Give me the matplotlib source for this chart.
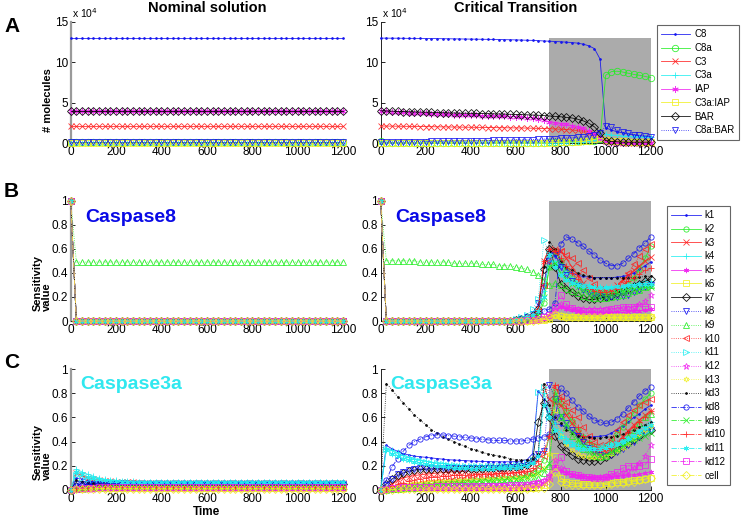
import matplotlib
matplotlib.use("Agg")
import matplotlib.pyplot as plt

plt.rcParams['font.family'] = ['Liberation Sans', 'DejaVu Sans']

# ---------------------------------------------------------------- data
time = list(range(0, 1201, 25))  # 49 samples, 0..1200
transition_start = 750
transition_end = 1200
transition_top_molecules = 13.0  # x 1e4

species = ['C8', 'C8a', 'C3', 'C3a', 'IAP', 'C3a:IAP', 'BAR', 'C8a:BAR']
params = ['k1', 'k2', 'k3', 'k4', 'k5', 'k6', 'k7', 'k8', 'k9', 'k10', 'k11',
          'k12', 'k13', 'kd3', 'kd8', 'kd9', 'kd10', 'kd11', 'kd12', 'cell']

# Panel A, nominal solution (# molecules, x 1e4)
nom_C8 = [13.0] * 49
nom_C8a = [0.1] * 49
nom_C3 = [2.1] * 49
nom_C3a = [0.0] * 49
nom_IAP = [4.0] * 49
nom_C3aIAP = [0.0] * 49
nom_BAR = [4.0] * 49
nom_C8aBAR = [0.1] * 49

# Panel A, critical transition (# molecules, x 1e4)
crit_C8 = [13.0, 13.0, 12.99, 12.99, 12.98, 12.97, 12.97, 12.96, 12.95, 12.95,
           12.94, 12.93, 12.92, 12.91, 12.9, 12.89, 12.88, 12.87, 12.86, 12.85,
           12.84, 12.83, 12.81, 12.8, 12.78, 12.76, 12.74, 12.72, 12.69, 12.65,
           12.62, 12.58, 12.55, 12.5, 12.45, 12.38, 12.25, 12.05, 11.7, 10.4,
           1.9, 1.6, 1.4, 1.25, 1.1, 1.0, 0.9, 0.82, 0.75]
crit_C8a = ([0.2] + [0.05] * 29 +
            [0.08, 0.1, 0.12, 0.15, 0.18, 0.2, 0.22, 0.25, 0.3, 0.5] +
            [8.4, 8.85, 8.9, 8.8, 8.65, 8.5, 8.4, 8.25, 8.1])
crit_C3 = ([2.1, 2.1, 2.09, 2.08, 2.07, 2.06, 2.05, 2.04, 2.03, 2.02, 2.01, 2.0,
            1.99, 1.98, 1.97, 1.96, 1.95, 1.94, 1.93, 1.92, 1.91, 1.9, 1.89, 1.88,
            1.87, 1.86, 1.85, 1.83, 1.81, 1.79] +
           [1.77, 1.74, 1.71, 1.67, 1.62, 1.55, 1.45, 1.3, 1.1, 0.8] +
           [0.2, 0.1, 0.08, 0.06, 0.05, 0.04, 0.04, 0.03, 0.03])
crit_C3a = ([0.0] * 30 +
            [0.03, 0.04, 0.05, 0.06, 0.08, 0.1, 0.15, 0.22, 0.35, 0.6] +
            [1.1, 1.0, 0.95, 0.9, 0.85, 0.8, 0.77, 0.74, 0.7])
crit_IAP = [4.0, 3.95, 3.9, 3.86, 3.82, 3.78, 3.74, 3.7, 3.67, 3.64,
            3.61, 3.58, 3.55, 3.52, 3.5, 3.47, 3.45, 3.42, 3.4, 3.37,
            3.35, 3.32, 3.3, 3.27, 3.24, 3.2, 3.16, 3.1, 3.0, 2.85,
            2.6, 2.5, 2.4, 2.3, 2.15, 2.0, 1.8, 1.5, 1.1, 0.6,
            0.1, 0.05, 0.03, 0.02, 0.02, 0.01, 0.01, 0.01, 0.01]
crit_C3aIAP = ([0.0] * 30 +
               [0.05, 0.06, 0.08, 0.1, 0.12, 0.15, 0.2, 0.3, 0.45, 0.6] +
               [0.4, 0.3, 0.25, 0.2, 0.18, 0.15, 0.13, 0.12, 0.1])
crit_BAR = [4.0, 3.97, 3.95, 3.92, 3.9, 3.88, 3.86, 3.84, 3.82, 3.8,
            3.78, 3.76, 3.74, 3.72, 3.7, 3.69, 3.68, 3.66, 3.65, 3.64,
            3.62, 3.6, 3.58, 3.56, 3.54, 3.52, 3.5, 3.47, 3.44, 3.4,
            3.35, 3.3, 3.25, 3.18, 3.1, 2.95, 2.75, 2.45, 2.0, 1.3,
            0.3, 0.2, 0.15, 0.12, 0.1, 0.1, 0.1, 0.1, 0.1]
crit_C8aBAR = ([0.1, 0.11, 0.12, 0.13, 0.14, 0.15, 0.16, 0.17, 0.18, 0.19,
                0.2, 0.21, 0.22, 0.23, 0.24, 0.25, 0.26, 0.28, 0.29, 0.3,
                0.31, 0.32, 0.34, 0.35, 0.37, 0.38, 0.4, 0.42, 0.45, 0.48] +
               [0.52, 0.55, 0.58, 0.62, 0.66, 0.7, 0.76, 0.85, 1.0, 1.3] +
               [2.05, 2.0, 1.6, 1.35, 1.2, 1.05, 0.95, 0.85, 0.75])

# Panel B, Caspase8 sensitivity, nominal solution
c8_nom_k9 = [1.0] + [0.49] * 48
c8_nom_other = [1.0] + [0.0] * 48

# Panel B, Caspase8 sensitivity, critical transition
c8_crit_k1 = [1.0] + [0.0] * 23 + [0.01, 0.02, 0.03, 0.05, 0.08, 0.3, 0.58, 0.55, 0.47, 0.43, 0.4, 0.38, 0.37, 0.365, 0.36, 0.36, 0.36, 0.36, 0.365, 0.37, 0.38, 0.4, 0.43, 0.46, 0.49]
c8_crit_k2 = [1.0] + [0.0] * 23 + [0.01, 0.01, 0.02, 0.03, 0.05, 0.15, 0.45, 0.58, 0.5, 0.42, 0.36, 0.31, 0.27, 0.24, 0.22, 0.21, 0.21, 0.22, 0.24, 0.27, 0.31, 0.36, 0.43, 0.52, 0.62]
c8_crit_k3 = [1.0] + [0.0] * 23 + [0.01, 0.02, 0.03, 0.05, 0.1, 0.5, 0.6, 0.6, 0.58, 0.52, 0.45, 0.38, 0.32, 0.28, 0.26, 0.25, 0.25, 0.27, 0.3, 0.34, 0.38, 0.42, 0.46, 0.5, 0.53]
c8_crit_k4 = [1.0] + [0.0] * 23 + [0.01, 0.01, 0.02, 0.05, 0.1, 0.25, 0.5, 0.5, 0.45, 0.4, 0.36, 0.33, 0.31, 0.3, 0.29, 0.28, 0.28, 0.28, 0.29, 0.29, 0.3, 0.31, 0.32, 0.33, 0.33]
c8_crit_k5 = [1.0] + [0.0] * 23 + [0.01, 0.01, 0.01, 0.01, 0.02, 0.03, 0.05, 0.08, 0.12, 0.1, 0.09, 0.08, 0.07, 0.07, 0.07, 0.065, 0.065, 0.065, 0.07, 0.07, 0.075, 0.08, 0.085, 0.09, 0.1]
c8_crit_k6 = [1.0] + [0.0] * 23 + [0.0, 0.0, 0.0, 0.01, 0.01, 0.01, 0.02, 0.05, 0.04, 0.03, 0.03, 0.03, 0.03, 0.03, 0.03, 0.03, 0.03, 0.03, 0.03, 0.03, 0.03, 0.03, 0.03, 0.03, 0.03]
c8_crit_k7 = [1.0] + [0.0] * 23 + [0.01, 0.02, 0.03, 0.05, 0.1, 0.43, 0.6, 0.45, 0.31, 0.27, 0.24, 0.21, 0.19, 0.18, 0.18, 0.19, 0.2, 0.21, 0.23, 0.25, 0.27, 0.29, 0.31, 0.33, 0.35]
c8_crit_k8 = [1.0] + [0.0] * 23 + [0.01, 0.02, 0.03, 0.06, 0.15, 0.29, 0.5, 0.55, 0.45, 0.38, 0.33, 0.29, 0.26, 0.24, 0.22, 0.21, 0.2, 0.2, 0.2, 0.21, 0.22, 0.24, 0.26, 0.28, 0.3]
c8_crit_k9 = ([1.0] + [0.5, 0.5, 0.5, 0.5, 0.5, 0.5, 0.49, 0.49, 0.49, 0.49, 0.49, 0.49, 0.48, 0.48, 0.48, 0.48, 0.48, 0.47, 0.47, 0.47, 0.46, 0.46, 0.46]
              + [0.45, 0.44, 0.43, 0.41, 0.38, 0.34, 0.3, 0.32, 0.3, 0.27, 0.25, 0.23, 0.21, 0.2, 0.19, 0.19, 0.19, 0.2, 0.21, 0.22, 0.23, 0.25, 0.26, 0.28, 0.3])
c8_crit_k10 = [1.0] + [0.0] * 23 + [0.01, 0.02, 0.03, 0.05, 0.08, 0.3, 0.5, 0.58, 0.58, 0.55, 0.52, 0.48, 0.42, 0.36, 0.31, 0.27, 0.25, 0.25, 0.28, 0.33, 0.4, 0.47, 0.54, 0.6, 0.64]
c8_crit_k11 = [1.0] + [0.0] * 23 + [0.02, 0.03, 0.05, 0.1, 0.18, 0.67, 0.56, 0.47, 0.4, 0.35, 0.32, 0.3, 0.29, 0.28, 0.27, 0.26, 0.26, 0.26, 0.27, 0.27, 0.28, 0.28, 0.29, 0.29, 0.3]
c8_crit_k12 = [1.0] + [0.0] * 23 + [0.0, 0.0, 0.01, 0.01, 0.01, 0.02, 0.04, 0.1, 0.14, 0.12, 0.11, 0.1, 0.1, 0.1, 0.1, 0.1, 0.1, 0.1, 0.1, 0.105, 0.11, 0.12, 0.14, 0.17, 0.22]
c8_crit_k13 = [1.0] + [0.0] * 23 + [0.0, 0.0, 0.0, 0.0, 0.01, 0.01, 0.02, 0.04, 0.03, 0.03, 0.03, 0.03, 0.03, 0.03, 0.03, 0.03, 0.03, 0.03, 0.03, 0.03, 0.03, 0.03, 0.03, 0.03, 0.03]
c8_crit_kd3 = [1.0] + [0.0] * 23 + [0.01, 0.02, 0.03, 0.05, 0.1, 0.45, 0.66, 0.6, 0.5, 0.45, 0.42, 0.4, 0.38, 0.37, 0.36, 0.36, 0.36, 0.36, 0.36, 0.36, 0.36, 0.36, 0.365, 0.37, 0.37]
c8_crit_kd8 = [1.0] + [0.0] * 23 + [0.01, 0.01, 0.02, 0.03, 0.05, 0.08, 0.1, 0.15, 0.64, 0.7, 0.68, 0.65, 0.62, 0.58, 0.55, 0.51, 0.48, 0.46, 0.46, 0.48, 0.52, 0.56, 0.61, 0.65, 0.7]
c8_crit_kd9 = [1.0] + [0.0] * 23 + [0.01, 0.01, 0.02, 0.03, 0.05, 0.2, 0.45, 0.48, 0.4, 0.35, 0.31, 0.28, 0.26, 0.25, 0.24, 0.23, 0.23, 0.23, 0.24, 0.25, 0.26, 0.27, 0.27, 0.28, 0.28]
c8_crit_kd10 = [1.0] + [0.0] * 23 + [0.01, 0.02, 0.03, 0.05, 0.1, 0.5, 0.6, 0.58, 0.52, 0.46, 0.4, 0.35, 0.3, 0.27, 0.25, 0.24, 0.24, 0.25, 0.27, 0.3, 0.33, 0.36, 0.39, 0.42, 0.44]
c8_crit_kd11 = [1.0] + [0.0] * 23 + [0.01, 0.02, 0.03, 0.05, 0.08, 0.2, 0.55, 0.45, 0.38, 0.34, 0.32, 0.3, 0.29, 0.28, 0.28, 0.28, 0.28, 0.28, 0.29, 0.29, 0.3, 0.3, 0.31, 0.31, 0.31]
c8_crit_kd12 = [1.0] + [0.0] * 23 + [0.0, 0.0, 0.01, 0.01, 0.02, 0.03, 0.05, 0.12, 0.22, 0.14, 0.11, 0.09, 0.085, 0.08, 0.08, 0.08, 0.09, 0.1, 0.11, 0.12, 0.12, 0.12, 0.12, 0.12, 0.12]
c8_crit_cell = [1.0] + [0.0] * 23 + [0.0, 0.0, 0.0, 0.0, 0.01, 0.02, 0.03, 0.06, 0.04, 0.03, 0.03, 0.03, 0.03, 0.03, 0.03, 0.03, 0.03, 0.03, 0.03, 0.03, 0.03, 0.03, 0.03, 0.03, 0.03]

# Panel C, Caspase3a sensitivity, nominal solution
c3a_nom_k1 = [0, 0.1, 0.09, 0.08, 0.072, 0.066, 0.062, 0.06, 0.058, 0.057, 0.056, 0.055, 0.055] + [0.055] * 36
c3a_nom_k2 = [0, 0.01, 0.02, 0.025, 0.03, 0.032, 0.034, 0.035, 0.036, 0.037, 0.038, 0.038, 0.038] + [0.038] * 36
c3a_nom_k3 = [0, 0.14, 0.12, 0.1, 0.09, 0.082, 0.076, 0.072, 0.068, 0.066, 0.064, 0.062, 0.06] + [0.06] * 36
c3a_nom_k4 = [0, 0.17, 0.15, 0.13, 0.115, 0.1, 0.09, 0.085, 0.08, 0.077, 0.074, 0.072, 0.07] + [0.068] * 36
c3a_nom_k5 = [0, 0.005, 0.008, 0.01, 0.01, 0.01, 0.01, 0.01, 0.01, 0.01, 0.01, 0.01, 0.01] + [0.01] * 36
c3a_nom_k6 = [0, 0.01, 0.012, 0.013, 0.014, 0.015, 0.015, 0.015, 0.015, 0.015, 0.015, 0.015, 0.015] + [0.015] * 36
c3a_nom_k7 = [0, 0.03, 0.038, 0.042, 0.044, 0.045, 0.046, 0.046, 0.046, 0.046, 0.046, 0.046, 0.046] + [0.046] * 36
c3a_nom_k8 = [0, 0.05, 0.05, 0.05, 0.05, 0.05, 0.05, 0.05, 0.05, 0.05, 0.05, 0.05, 0.05] + [0.05] * 36
c3a_nom_k9 = [0, 0.008, 0.014, 0.018, 0.02, 0.022, 0.023, 0.024, 0.025, 0.025, 0.025, 0.025, 0.025] + [0.025] * 36
c3a_nom_k10 = [0, 0.01, 0.018, 0.024, 0.028, 0.03, 0.031, 0.032, 0.033, 0.033, 0.033, 0.033, 0.033] + [0.033] * 36
c3a_nom_k11 = [0, 0.12, 0.1, 0.09, 0.08, 0.074, 0.07, 0.067, 0.065, 0.063, 0.062, 0.061, 0.06] + [0.06] * 36
c3a_nom_k12 = [0, 0.005, 0.008, 0.01, 0.012, 0.013, 0.014, 0.015, 0.015, 0.015, 0.015, 0.015, 0.015] + [0.015] * 36
c3a_nom_k13 = [0, 0.01, 0.015, 0.018, 0.02, 0.021, 0.022, 0.022, 0.022, 0.022, 0.022, 0.022, 0.022] + [0.022] * 36
c3a_nom_kd3 = [0, 0.08, 0.07, 0.06, 0.055, 0.05, 0.048, 0.046, 0.045, 0.044, 0.043, 0.042, 0.042] + [0.042] * 36
c3a_nom_kd8 = [0, 0.03, 0.04, 0.045, 0.048, 0.05, 0.052, 0.053, 0.054, 0.055, 0.055, 0.055, 0.055] + [0.055] * 36
c3a_nom_kd9 = [0, 0.005, 0.01, 0.014, 0.017, 0.019, 0.02, 0.021, 0.022, 0.022, 0.022, 0.022, 0.022] + [0.022] * 36
c3a_nom_kd10 = [0, 0.008, 0.014, 0.018, 0.021, 0.023, 0.024, 0.025, 0.025, 0.025, 0.025, 0.025, 0.025] + [0.025] * 36
c3a_nom_kd11 = [0, 0.15, 0.13, 0.11, 0.1, 0.09, 0.082, 0.076, 0.072, 0.068, 0.066, 0.064, 0.062] + [0.062] * 36
c3a_nom_kd12 = [0, 0.01, 0.015, 0.018, 0.02, 0.021, 0.022, 0.022, 0.022, 0.022, 0.022, 0.022, 0.022] + [0.022] * 36
c3a_nom_cell = [0, 0.005, 0.007, 0.008, 0.009, 0.01, 0.01, 0.01, 0.01, 0.01, 0.01, 0.01, 0.01] + [0.01] * 36

# Panel C, Caspase3a sensitivity, critical transition
c3a_crit_k1 = ([0, 0.37, 0.34, 0.32, 0.3, 0.29, 0.28, 0.275, 0.27, 0.265, 0.26, 0.255, 0.25, 0.248, 0.245, 0.243, 0.24, 0.238, 0.236, 0.235, 0.234, 0.233, 0.233, 0.233]
               + [0.235, 0.24, 0.25, 0.3, 0.82, 0.75, 0.6, 0.55, 0.54, 0.52, 0.49, 0.46, 0.44, 0.44, 0.44, 0.445, 0.45, 0.47, 0.5, 0.53, 0.56, 0.6, 0.63, 0.67, 0.7])
c3a_crit_k2 = ([0, 0.005, 0.01, 0.02, 0.03, 0.035, 0.04, 0.045, 0.05, 0.055, 0.06, 0.065, 0.07, 0.072, 0.075, 0.078, 0.08, 0.083, 0.086, 0.09, 0.093, 0.096, 0.1, 0.103]
               + [0.107, 0.11, 0.12, 0.14, 0.18, 0.25, 0.45, 0.82, 0.72, 0.65, 0.57, 0.5, 0.44, 0.39, 0.36, 0.35, 0.36, 0.4, 0.46, 0.52, 0.58, 0.64, 0.7, 0.75, 0.8])
c3a_crit_k3 = ([0, 0.02, 0.05, 0.08, 0.1, 0.11, 0.12, 0.125, 0.13, 0.135, 0.14, 0.143, 0.146, 0.15, 0.152, 0.155, 0.158, 0.16, 0.163, 0.165, 0.168, 0.17, 0.172, 0.175]
               + [0.178, 0.18, 0.19, 0.22, 0.3, 0.85, 0.75, 0.72, 0.7, 0.62, 0.55, 0.47, 0.4, 0.35, 0.32, 0.31, 0.32, 0.35, 0.39, 0.44, 0.49, 0.54, 0.58, 0.62, 0.65])
c3a_crit_k4 = ([0, 0.35, 0.33, 0.31, 0.29, 0.27, 0.26, 0.25, 0.24, 0.23, 0.225, 0.22, 0.215, 0.21, 0.205, 0.2, 0.2, 0.2, 0.2, 0.2, 0.2, 0.2, 0.2, 0.2]
               + [0.2, 0.205, 0.21, 0.22, 0.3, 0.8, 0.65, 0.55, 0.48, 0.43, 0.4, 0.38, 0.37, 0.36, 0.36, 0.36, 0.37, 0.38, 0.4, 0.42, 0.44, 0.47, 0.5, 0.53, 0.56])
c3a_crit_k5 = ([0, 0.003, 0.005, 0.007, 0.008, 0.009] + [0.01] * 18
               + [0.012, 0.014, 0.017, 0.022, 0.03, 0.05, 0.08, 0.2, 0.16, 0.14, 0.125, 0.115, 0.11, 0.105, 0.1, 0.1, 0.1, 0.105, 0.11, 0.115, 0.12, 0.125, 0.13, 0.14, 0.15])
c3a_crit_k6 = ([0, 0.005, 0.008, 0.01, 0.012, 0.013, 0.014, 0.015] + [0.015] * 16
               + [0.016, 0.017, 0.018, 0.02, 0.025, 0.04, 0.1, 0.28, 0.1, 0.07, 0.06, 0.055, 0.05, 0.05, 0.05, 0.05, 0.055, 0.06, 0.065, 0.07, 0.075, 0.08, 0.085, 0.09, 0.1])
c3a_crit_k7 = ([0, 0.05, 0.09, 0.12, 0.14, 0.155, 0.165, 0.17, 0.172, 0.174, 0.175, 0.175, 0.175, 0.175, 0.175, 0.175, 0.175, 0.176, 0.177, 0.178, 0.18, 0.182, 0.184, 0.186]
               + [0.19, 0.2, 0.21, 0.25, 0.56, 0.72, 0.6, 0.45, 0.36, 0.32, 0.29, 0.26, 0.25, 0.24, 0.24, 0.25, 0.27, 0.3, 0.33, 0.36, 0.39, 0.42, 0.45, 0.48, 0.5])
c3a_crit_k8 = ([0, 0.04, 0.09, 0.13, 0.15, 0.165, 0.175, 0.18, 0.18, 0.18, 0.18, 0.18, 0.18, 0.18, 0.18, 0.18, 0.18, 0.18, 0.18, 0.18, 0.182, 0.184, 0.186, 0.188]
               + [0.19, 0.2, 0.21, 0.24, 0.3, 0.32, 0.87, 0.75, 0.6, 0.55, 0.5, 0.45, 0.4, 0.35, 0.31, 0.29, 0.28, 0.29, 0.31, 0.34, 0.37, 0.4, 0.44, 0.47, 0.5])
c3a_crit_k9 = ([0, 0.003, 0.006, 0.01, 0.013, 0.016, 0.02, 0.022, 0.025, 0.028, 0.03, 0.032, 0.035, 0.037, 0.04, 0.042, 0.045, 0.047, 0.05, 0.052, 0.055, 0.057, 0.06, 0.062]
               + [0.065, 0.07, 0.075, 0.085, 0.1, 0.14, 0.2, 0.78, 0.6, 0.52, 0.45, 0.39, 0.34, 0.3, 0.28, 0.27, 0.28, 0.31, 0.35, 0.4, 0.45, 0.5, 0.55, 0.6, 0.63])
c3a_crit_k10 = ([0, 0.005, 0.01, 0.02, 0.03, 0.04, 0.05, 0.06, 0.065, 0.07, 0.075, 0.08, 0.085, 0.09, 0.095, 0.1, 0.105, 0.11, 0.113, 0.116, 0.12, 0.123, 0.126, 0.13]
                + [0.133, 0.137, 0.14, 0.16, 0.2, 0.28, 0.45, 0.85, 0.78, 0.73, 0.66, 0.6, 0.52, 0.45, 0.4, 0.37, 0.38, 0.42, 0.5, 0.56, 0.62, 0.66, 0.7, 0.73, 0.75])
c3a_crit_k11 = ([0, 0.34, 0.31, 0.29, 0.27, 0.26, 0.25, 0.24, 0.23, 0.225, 0.22, 0.215, 0.21, 0.205, 0.2, 0.2, 0.2, 0.2, 0.2, 0.2, 0.2, 0.2, 0.2, 0.2]
                + [0.205, 0.21, 0.22, 0.25, 0.81, 0.85, 0.6, 0.5, 0.45, 0.41, 0.38, 0.36, 0.35, 0.35, 0.35, 0.35, 0.36, 0.37, 0.38, 0.4, 0.42, 0.44, 0.46, 0.48, 0.5])
c3a_crit_k12 = ([0, 0.005, 0.01, 0.013, 0.016, 0.018, 0.02, 0.022, 0.024, 0.026, 0.028, 0.03, 0.031, 0.032, 0.033, 0.034, 0.035, 0.036, 0.037, 0.038, 0.039, 0.04, 0.041, 0.042]
                + [0.043, 0.045, 0.048, 0.055, 0.065, 0.08, 0.12, 0.25, 0.18, 0.15, 0.13, 0.12, 0.115, 0.11, 0.11, 0.11, 0.115, 0.12, 0.13, 0.145, 0.16, 0.18, 0.22, 0.28, 0.37])
c3a_crit_k13 = ([0, 0.01, 0.02, 0.03, 0.04, 0.05, 0.055, 0.06, 0.065, 0.07, 0.072, 0.074, 0.076, 0.078, 0.08, 0.082, 0.084, 0.086, 0.088, 0.09, 0.092, 0.094, 0.096, 0.098]
                + [0.1, 0.105, 0.11, 0.12, 0.14, 0.18, 0.3, 0.65, 0.45, 0.38, 0.33, 0.3, 0.28, 0.27, 0.27, 0.27, 0.28, 0.3, 0.32, 0.35, 0.38, 0.42, 0.46, 0.5, 0.53])
c3a_crit_kd3 = ([0, 0.88, 0.83, 0.77, 0.72, 0.67, 0.62, 0.58, 0.54, 0.5, 0.47, 0.44, 0.42, 0.4, 0.38, 0.36, 0.34, 0.33, 0.31, 0.3, 0.29, 0.28, 0.27, 0.26]
                + [0.25, 0.25, 0.25, 0.26, 0.3, 0.88, 0.7, 0.6, 0.55, 0.5, 0.47, 0.45, 0.44, 0.435, 0.43, 0.43, 0.435, 0.44, 0.45, 0.46, 0.48, 0.5, 0.52, 0.54, 0.56])
c3a_crit_kd8 = ([0, 0.08, 0.19, 0.26, 0.32, 0.37, 0.4, 0.42, 0.44, 0.45, 0.455, 0.455, 0.45, 0.445, 0.44, 0.435, 0.43, 0.425, 0.42, 0.415, 0.41, 0.41, 0.41, 0.405]
                + [0.405, 0.405, 0.41, 0.42, 0.43, 0.44, 0.46, 0.6, 0.84, 0.8, 0.74, 0.69, 0.65, 0.61, 0.58, 0.56, 0.55, 0.56, 0.59, 0.63, 0.68, 0.73, 0.78, 0.82, 0.85])
c3a_crit_kd9 = ([0, 0.005, 0.01, 0.015, 0.02, 0.025, 0.03, 0.035, 0.04, 0.043, 0.046, 0.05, 0.053, 0.056, 0.06, 0.063, 0.066, 0.07, 0.073, 0.076, 0.08, 0.083, 0.086, 0.09]
                + [0.095, 0.1, 0.11, 0.12, 0.14, 0.17, 0.22, 0.75, 0.62, 0.55, 0.48, 0.42, 0.37, 0.33, 0.3, 0.29, 0.29, 0.31, 0.33, 0.36, 0.39, 0.41, 0.43, 0.45, 0.47])
c3a_crit_kd10 = ([0, 0.01, 0.03, 0.05, 0.06, 0.075, 0.085, 0.095, 0.1, 0.105, 0.11, 0.113, 0.116, 0.12, 0.123, 0.126, 0.128, 0.13, 0.132, 0.134, 0.136, 0.138, 0.14, 0.142]
                 + [0.145, 0.15, 0.16, 0.18, 0.24, 0.32, 0.45, 0.87, 0.75, 0.68, 0.6, 0.52, 0.45, 0.4, 0.36, 0.34, 0.33, 0.35, 0.39, 0.43, 0.48, 0.52, 0.56, 0.6, 0.65])
c3a_crit_kd11 = ([0, 0.33, 0.3, 0.28, 0.26, 0.245, 0.235, 0.225, 0.215, 0.21, 0.2, 0.195, 0.19, 0.185, 0.18, 0.178, 0.176, 0.175, 0.175, 0.175, 0.175, 0.178, 0.18, 0.182]
                 + [0.185, 0.19, 0.2, 0.22, 0.28, 0.7, 0.6, 0.5, 0.44, 0.4, 0.37, 0.35, 0.34, 0.34, 0.34, 0.34, 0.35, 0.36, 0.38, 0.4, 0.42, 0.45, 0.48, 0.51, 0.54])
c3a_crit_kd12 = ([0, 0.01, 0.015, 0.02, 0.022, 0.024, 0.025, 0.026, 0.027, 0.028, 0.029, 0.03, 0.03, 0.03, 0.03, 0.03, 0.031, 0.032, 0.033, 0.034, 0.035, 0.036, 0.037, 0.038]
                 + [0.04, 0.042, 0.045, 0.05, 0.055, 0.065, 0.1, 0.18, 0.27, 0.16, 0.13, 0.12, 0.11, 0.105, 0.1, 0.1, 0.11, 0.13, 0.15, 0.18, 0.2, 0.2, 0.2, 0.21, 0.26])
c3a_crit_cell = ([0, 0.002, 0.004, 0.006, 0.007, 0.008] + [0.008] * 18
                 + [0.009, 0.01, 0.011, 0.013, 0.016, 0.02, 0.05, 0.15, 0.07, 0.05, 0.045, 0.04, 0.04, 0.04, 0.04, 0.04, 0.045, 0.05, 0.055, 0.06, 0.065, 0.07, 0.08, 0.09, 0.1])

# ---------------------------------------------------------------- styles
ASTERISK = (6, 2, 0)
HEXAGRAM = (6, 1, 0)
MB, MG, MR, MC, MM, MY, MK = '#1010f0', '#22ee22', '#ff2020', '#20eef0', '#f020f0', '#f0f020', '#000000'
species_colors = [MB, MG, MR, MC, MM, MY, MK, MB]
species_markers = ['.', 'o', 'x', '+', ASTERISK, 's', 'D', 'v']
species_styles = ['-'] * 7 + [':']
param_colors = [MB, MG, MR, MC, MM, MY, MK, MB, MG, MR, MC, MM, MY, MK, MB, MG, MR, MC, MM, MY]
param_markers = ['.', 'o', 'x', '+', ASTERISK, 's', 'D', 'v', '^', '<', '>', '*', HEXAGRAM,
                 '.', 'o', 'x', '+', ASTERISK, 's', 'D']
param_styles = ['-'] * 7 + [':'] * 7 + ['-.'] * 6
GRAY = '#ababab'

W, H = 745, 518
fig = plt.figure(figsize=(W / 100, H / 100), dpi=100)


def rect(l, t, r, b):
    return [l / W, 1 - b / H, (r - l) / W, (b - t) / H]


axA1 = fig.add_axes(rect(70.7, 22, 343, 143))
axA2 = fig.add_axes(rect(380.7, 22, 650.7, 143))
axB1 = fig.add_axes(rect(70.7, 200.7, 343, 321))
axB2 = fig.add_axes(rect(380.7, 200.7, 650.7, 321))
axC1 = fig.add_axes(rect(70.7, 369, 343, 490))
axC2 = fig.add_axes(rect(380.7, 369, 650.7, 490))


def style(ax, left_col, ylim, yticks, ylabels):
    ax.set_xlim(0, 1200)
    ax.set_ylim(*ylim)
    ax.set_xticks(range(0, 1201, 200))
    ax.set_yticks(yticks)
    ax.set_yticklabels(ylabels)
    ax.spines['top'].set_visible(False)
    ax.spines['right'].set_visible(False)
    ax.spines['bottom'].set_linewidth(0.6)
    if left_col:
        ax.spines['left'].set_color('#9a9a9a')
        ax.spines['left'].set_linewidth(1.6)
    else:
        ax.spines['left'].set_linewidth(0.6)
    ax.tick_params(direction='in', length=3, width=0.6, labelsize=8.5, pad=2)
    ax.patch.set_alpha(0)


def draw(ax, series, colors, markers, styles, labels, ms=3.8):
    handles = []
    for vals, c, m, ls, lab in zip(series, colors, markers, styles, labels):
        filled = m == '.'
        if m == '.':
            size = 2.6
        elif m == '*':
            size = ms + 1
        elif m in ('x', '+', 'D'):
            size = ms * 0.95
        else:
            size = ms
        h, = ax.plot(time, vals, color=c, marker=m, linestyle=ls, lw=0.6,
                     ms=size, mfc=c if filled else 'none', mew=0.6,
                     clip_on=False, label=lab, zorder=3, alpha=0.9)
        handles.append(h)
    return handles


def shade(ax, top):
    ax.fill_between([transition_start, transition_end], 0, top, color=GRAY,
                    lw=0, zorder=1)


# ---- Panel A
nom_species = [nom_C8, nom_C8a, nom_C3, nom_C3a, nom_IAP, nom_C3aIAP, nom_BAR, nom_C8aBAR]
crit_species = [crit_C8, crit_C8a, crit_C3, crit_C3a, crit_IAP, crit_C3aIAP, crit_BAR, crit_C8aBAR]
for ax, data, left in ((axA1, nom_species, True), (axA2, crit_species, False)):
    style(ax, left, (0, 15), [0, 5, 10, 15], ['0', '5', '10', '15'])
    ax.text(0.005, 1.02, r'x 10$^{4}$', transform=ax.transAxes, fontsize=7.5,
            ha='left', va='bottom')
shade(axA2, transition_top_molecules)
draw(axA1, nom_species, species_colors, species_markers, species_styles, species, ms=4.6)
hA = draw(axA2, crit_species, species_colors, species_markers, species_styles, species, ms=4.6)
axA1.set_title('Nominal solution', fontsize=10.5, fontweight='bold', pad=7)
axA2.set_title('Critical Transition', fontsize=10.5, fontweight='bold', pad=7)
axA1.text(-0.082, 0.09, '# molecules', rotation=90, transform=axA1.transAxes,
          ha='center', va='bottom', fontsize=8, fontweight='bold')

# ---- Panels B and C
sens_ticks = [0, 0.2, 0.4, 0.6, 0.8, 1]
sens_labels = ['0', '0.2', '0.4', '0.6', '0.8', '1']
c8_nom = [c8_nom_other] * 8 + [c8_nom_k9] + [c8_nom_other] * 11
c8_crit = [c8_crit_k1, c8_crit_k2, c8_crit_k3, c8_crit_k4, c8_crit_k5, c8_crit_k6,
           c8_crit_k7, c8_crit_k8, c8_crit_k9, c8_crit_k10, c8_crit_k11, c8_crit_k12,
           c8_crit_k13, c8_crit_kd3, c8_crit_kd8, c8_crit_kd9, c8_crit_kd10,
           c8_crit_kd11, c8_crit_kd12, c8_crit_cell]
c3a_nom = [c3a_nom_k1, c3a_nom_k2, c3a_nom_k3, c3a_nom_k4, c3a_nom_k5, c3a_nom_k6,
           c3a_nom_k7, c3a_nom_k8, c3a_nom_k9, c3a_nom_k10, c3a_nom_k11, c3a_nom_k12,
           c3a_nom_k13, c3a_nom_kd3, c3a_nom_kd8, c3a_nom_kd9, c3a_nom_kd10,
           c3a_nom_kd11, c3a_nom_kd12, c3a_nom_cell]
c3a_crit = [c3a_crit_k1, c3a_crit_k2, c3a_crit_k3, c3a_crit_k4, c3a_crit_k5, c3a_crit_k6,
            c3a_crit_k7, c3a_crit_k8, c3a_crit_k9, c3a_crit_k10, c3a_crit_k11, c3a_crit_k12,
            c3a_crit_k13, c3a_crit_kd3, c3a_crit_kd8, c3a_crit_kd9, c3a_crit_kd10,
            c3a_crit_kd11, c3a_crit_kd12, c3a_crit_cell]

for ax, data, left, shaded in ((axB1, c8_nom, True, False), (axB2, c8_crit, False, True),
                               (axC1, c3a_nom, True, False), (axC2, c3a_crit, False, True)):
    style(ax, left, (0, 1), sens_ticks, sens_labels)
    if shaded:
        shade(ax, 1.0)
    hP = draw(ax, data, param_colors, param_markers, param_styles, params)

for ax in (axB1, axB2):
    ax.text(0.055, 0.86, 'Caspase8', transform=ax.transAxes, color='#0a0ae6',
            fontsize=14, fontweight='bold', ha='left', va='center', zorder=5)
for ax in (axC1, axC2):
    ax.text(0.035, 0.87, 'Caspase3a', transform=ax.transAxes, color='#30e8ef',
            fontsize=14, fontweight='bold', ha='left', va='center', zorder=5)
for ax in (axB1, axC1):
    ax.text(-0.104, 0.085, 'Sensitivity\nvalue', rotation=90, transform=ax.transAxes,
            ha='center', va='bottom', multialignment='left', fontsize=8,
            fontweight='bold', linespacing=1.0)
for ax in (axC1, axC2):
    ax.set_xlabel('Time', fontsize=8.5, fontweight='bold', labelpad=1)

# ---- legends
legA = fig.legend(hA, species, loc='upper left', bbox_to_anchor=(657 / W, 1 - 25 / H),
                  fontsize=7, frameon=True, fancybox=False, edgecolor='#404040',
                  handlelength=2.9, numpoints=1, borderpad=0.45, labelspacing=0.38,
                  handletextpad=0.5, borderaxespad=0)
legA.get_frame().set_linewidth(0.8)
legB = fig.legend(hP, params, loc='upper left', bbox_to_anchor=(667 / W, 1 - 206 / H),
                  fontsize=7, frameon=True, fancybox=False, edgecolor='#404040',
                  handlelength=3.0, numpoints=1, borderpad=0.45, labelspacing=0.38,
                  handletextpad=0.4, borderaxespad=0)
legB.get_frame().set_linewidth(0.8)

# ---- panel letters
for letter, ypix in (('A', 26), ('B', 192), ('C', 362)):
    fig.text(4 / W, 1 - ypix / H, letter, fontsize=15, fontweight='bold',
             ha='left', va='center')

fig.savefig('out.png', dpi=100)
